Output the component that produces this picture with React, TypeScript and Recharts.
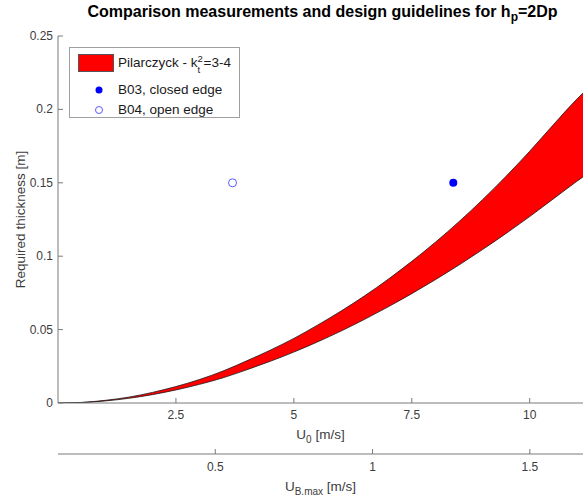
import React from 'react';
import {
  ComposedChart, Area, Line, Scatter, XAxis, YAxis,
} from 'recharts';

// ── Data ─────────────────────────────────────────────────────────────────────
const U0 = [0, 0.5, 1, 1.5, 2, 2.5, 3, 3.5, 4, 4.5, 5, 5.5, 6, 6.5, 7, 7.5, 8, 8.5, 9, 9.5, 10, 10.5, 11, 11.13];
// Pilarczyck band, kt^2 = 4 (upper) and kt^2 = 3 (lower), thickness in m
const UPPER = [0, 0.0004, 0.0018, 0.004, 0.0072, 0.0112, 0.016, 0.0218, 0.0287, 0.036, 0.044, 0.053, 0.0626, 0.073, 0.0843, 0.0965, 0.1095, 0.1235, 0.1385, 0.1545, 0.1715, 0.1895, 0.207, 0.2112];
const LOWER = [0, 0.0003, 0.0014, 0.0032, 0.0057, 0.0089, 0.0127, 0.0172, 0.0226, 0.0284, 0.0347, 0.0416, 0.049, 0.057, 0.0655, 0.0745, 0.084, 0.094, 0.1045, 0.1155, 0.127, 0.139, 0.151, 0.154];

const B03 = [{ u: 8.38, t: 0.15 }]; // closed edge
const B04 = [{ u: 3.7, t: 0.15 }];  // open edge

const U0_TICKS = [2.5, 5, 7.5, 10];
const UB_TICKS = [0.5, 1, 1.5];
const Y_TICKS = [0, 0.05, 0.1, 0.15, 0.2, 0.25];

const U0_MAX = 11.13;
const UB_MAX = 1.669;

const rows = U0.map((u, i) => ({ u, band: [LOWER[i], UPPER[i]], lo: LOWER[i], hi: UPPER[i] }));

const FONT = '"Liberation Sans", Arial, sans-serif';
const AXIS = '#7a7a7a';
const TEXT = '#3c3c3c';

// ── Ticks (MATLAB style: marks point into the plot) ─────────────────────────
const XTick = (props: any) => {
  const { x, y, payload, dy } = props;
  return (
    <g>
      <line x1={x} x2={x} y1={y} y2={y - 5} stroke={AXIS} strokeWidth={1} />
      <text x={x} y={y + dy} textAnchor="middle" fontSize={12} fill={TEXT} fontFamily={FONT}>
        {payload.value}
      </text>
    </g>
  );
};

const YTick = (props: any) => {
  const { x, y, payload } = props;
  return (
    <g>
      <line x1={x} x2={x + 5} y1={y} y2={y} stroke={AXIS} strokeWidth={1} />
      <text x={x - 5} y={y + 4} textAnchor="end" fontSize={12} fill={TEXT} fontFamily={FONT}>
        {payload.value}
      </text>
    </g>
  );
};

const U0Label = (props: any) => {
  const { x, y, width } = props.viewBox;
  return (
    <text x={x + width / 2} y={y + 36} textAnchor="middle" fontSize={13.5} fill={TEXT} fontFamily={FONT}>
      U<tspan fontSize={10} dy={4}>0</tspan><tspan dy={-4}> [m/s]</tspan>
    </text>
  );
};

const UBLabel = (props: any) => {
  const { x, y, width } = props.viewBox;
  return (
    <text x={x + width / 2} y={y + 37} textAnchor="middle" fontSize={13.5} fill={TEXT} fontFamily={FONT}>
      U<tspan fontSize={10} dy={4}>B.max</tspan><tspan dy={-4}> [m/s]</tspan>
    </text>
  );
};

const YLabel = (props: any) => {
  const { y, height } = props.viewBox;
  const cy = y + height / 2;
  return (
    <text x={20} y={cy} transform={`rotate(-90 20 ${cy})`} textAnchor="middle" dominantBaseline="central"
      fontSize={13.5} fill={TEXT} fontFamily={FONT}>
      Required thickness [m]
    </text>
  );
};

const Dot = (filled: boolean) => (props: any) => (
  <circle cx={props.cx} cy={props.cy} r={4}
    fill={filled ? '#0000ff' : 'none'} stroke={filled ? '#0000ff' : '#5a5aff'} strokeWidth={filled ? 0 : 1} />
);

export default function App() {
  return (
    <div style={{ position: 'absolute', left: 0, top: 0, width: 583, height: 496, background: '#fff', fontFamily: FONT }}>
      <div style={{
        position: 'absolute', left: 0, width: 645, top: 3, textAlign: 'center',
        fontWeight: 'bold', fontSize: 16, color: '#000', whiteSpace: 'nowrap',
      }}>
        Comparison measurements and design guidelines for h<sub style={{ fontSize: 12 }}>p</sub>=2Dp
      </div>

      <ComposedChart width={583} height={496} data={rows} margin={{ top: 36, right: 0, bottom: 0, left: 0 }}>
        <XAxis dataKey="u" type="number" domain={[0, U0_MAX]} ticks={U0_TICKS} allowDataOverflow
          height={51} tickSize={0} tickMargin={0} tickLine={false} stroke={AXIS}
          tick={(p: any) => <XTick {...p} dy={16} />} label={{ content: (p: any) => <U0Label {...p} /> }} />
        <XAxis xAxisId="b" dataKey="u" type="number" domain={[0, UB_MAX]} ticks={UB_TICKS} allowDataOverflow
          height={42} tickSize={0} tickMargin={0} tickLine={false} stroke={AXIS}
          tick={(p: any) => <XTick {...p} dy={17} />} label={{ content: (p: any) => <UBLabel {...p} /> }} />
        <YAxis type="number" domain={[0, 0.25]} ticks={Y_TICKS} allowDataOverflow width={58}
          tickSize={0} tickMargin={0} tickLine={false} stroke={AXIS}
          tick={(p: any) => <YTick {...p} />} label={{ content: (p: any) => <YLabel {...p} /> }} />

        <Area dataKey="band" type="monotone" fill="#ff0000" fillOpacity={1} stroke="none" isAnimationActive={false} />
        <Line dataKey="hi" type="monotone" stroke="#1a1a1a" strokeWidth={0.8} dot={false} isAnimationActive={false} />
        <Line dataKey="lo" type="monotone" stroke="#1a1a1a" strokeWidth={0.8} dot={false} isAnimationActive={false} />
        <Scatter data={B03} dataKey="t" shape={Dot(true)} isAnimationActive={false} />
        <Scatter data={B04} dataKey="t" shape={Dot(false)} isAnimationActive={false} />
      </ComposedChart>

      {/* legend */}
      <div style={{
        position: 'absolute', left: 69, top: 47, width: 171, height: 71, boxSizing: 'border-box',
        border: '1px solid #a0a0a0', background: '#fff', fontSize: 13.5, color: '#1a1a1a',
      }}>
        <div style={{ position: 'absolute', left: 8, top: 6, width: 36, height: 18, background: '#ff0000', border: '1px solid #555', boxSizing: 'border-box' }} />
        <div style={{ position: 'absolute', left: 48, top: 6, whiteSpace: 'nowrap', lineHeight: '18px' }}>
          Pilarczyck - k
          <span style={{ position: 'relative', display: 'inline-block', width: 6, height: 10 }}>
            <span style={{ position: 'absolute', left: 0, top: -7, fontSize: 9.5 }}>2</span>
            <span style={{ position: 'absolute', left: 0, top: 4, fontSize: 9.5 }}>t</span>
          </span>
          =3-4
        </div>
        <svg style={{ position: 'absolute', left: 0, top: 0 }} width={60} height={70}>
          <circle cx={29} cy={42} r={3.5} fill="#0000ff" />
          <circle cx={29} cy={62} r={3.5} fill="none" stroke="#5a5aff" strokeWidth={1} />
        </svg>
        <div style={{ position: 'absolute', left: 48, top: 33, whiteSpace: 'nowrap', lineHeight: '18px' }}>B03, closed edge</div>
        <div style={{ position: 'absolute', left: 48, top: 53, whiteSpace: 'nowrap', lineHeight: '18px' }}>B04, open edge</div>
      </div>
    </div>
  );
}
